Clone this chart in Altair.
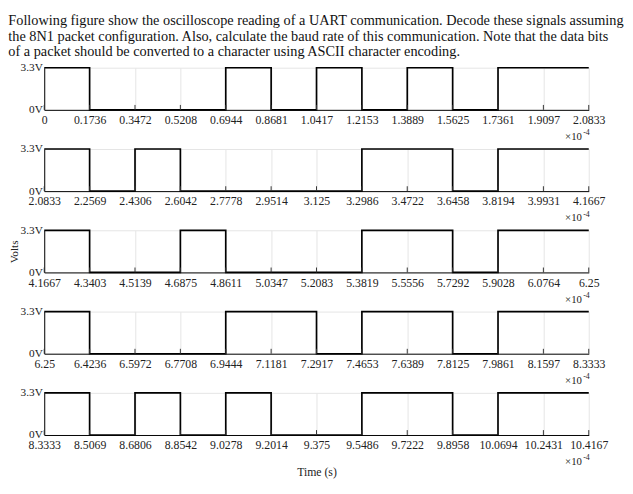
import altair as alt
import pandas as pd

HEADER = [
    "Following figure show the oscilloscope reading of a UART communication. Decode these signals assuming",
    "the 8N1 packet configuration. Also, calculate the baud rate of this communication. Note that the data bits",
    "of a packet should be converted to a character using ASCII character encoding.",
]

# tick labels (x10^-4 s) for each of the five panels
TICKS = [
    ["0", "0.1736", "0.3472", "0.5208", "0.6944", "0.8681", "1.0417", "1.2153", "1.3889", "1.5625", "1.7361", "1.9097", "2.0833"],
    ["2.0833", "2.2569", "2.4306", "2.6042", "2.7778", "2.9514", "3.125", "3.2986", "3.4722", "3.6458", "3.8194", "3.9931", "4.1667"],
    ["4.1667", "4.3403", "4.5139", "4.6875", "4.8611", "5.0347", "5.2083", "5.3819", "5.5556", "5.7292", "5.9028", "6.0764", "6.25"],
    ["6.25", "6.4236", "6.5972", "6.7708", "6.9444", "7.1181", "7.2917", "7.4653", "7.6389", "7.8125", "7.9861", "8.1597", "8.3333"],
    ["8.3333", "8.5069", "8.6806", "8.8542", "9.0278", "9.2014", "9.375", "9.5486", "9.7222", "9.8958", "10.0694", "10.2431", "10.4167"],
]

# logic level of each bit interval (1 = 3.3 V, 0 = 0 V)
BITS = [
    [1, 0, 0, 0, 1, 0, 1, 0, 1, 0, 1, 1],
    [1, 0, 1, 0, 0, 0, 0, 1, 1, 0, 1, 1],
    [1, 0, 0, 1, 0, 0, 0, 1, 1, 0, 1, 1],
    [1, 0, 0, 0, 1, 1, 0, 1, 1, 0, 1, 1],
    [1, 0, 1, 0, 1, 0, 0, 1, 1, 0, 1, 1],
]

V_HIGH = 3.3
Y_LEVELS = [0, 3.3]

W = 556
H = 43
SERIF = "Liberation Serif"
FS_X = 12
FS_Y = 11.5


def panel(i):
    t = [float(s) for s in TICKS[i]]
    levels = [V_HIGH * b for b in BITS[i]] + [V_HIGH * BITS[i][-1]]
    sig = pd.DataFrame({"t": t, "v": levels})
    tk = pd.DataFrame({"t": t})

    xscale = alt.Scale(domain=[t[0], t[-1]], nice=False, zero=False)
    xaxis = alt.Axis(
        values=t, format=".4~f", ticks=False, labelPadding=5, grid=True,
        labelOverlap=False, labelFlush=False, labelFont=SERIF, labelFontSize=FS_X,
        title="Time (s)" if i == 4 else None, titlePadding=16,
        titleFont=SERIF, titleFontSize=FS_X,
    )
    yaxis = alt.Axis(
        values=Y_LEVELS, labelExpr="format(datum.value, '~g') + 'V'",
        ticks=False, grid=True, labelPadding=2, labelOverlap=False,
        labelFont=SERIF, labelFontSize=FS_Y,
        title="Volts" if i == 2 else None, titlePadding=1,
        titleFont=SERIF, titleFontSize=FS_Y,
    )
    line = alt.Chart(sig).mark_line(
        interpolate="step-after", color="black", strokeWidth=1.7
    ).encode(
        x=alt.X("t:Q", scale=xscale, axis=xaxis),
        y=alt.Y("v:Q", scale=alt.Scale(domain=[0, 3.3], nice=False), axis=yaxis),
    )
    ticks = alt.Chart(tk).mark_rule(color="#333", strokeWidth=1).encode(
        x=alt.X("t:Q", scale=xscale),
        y=alt.value(H),
        y2=alt.value(H - 5),
    )
    base = alt.Chart(pd.DataFrame({"a": [0]}))
    exp1 = base.mark_text(
        text="\u00d710", align="right", baseline="middle", font=SERIF,
        fontSize=11, color="#222"
    ).encode(x=alt.value(W - 7), y=alt.value(H + 28))
    exp2 = base.mark_text(
        text="-4", align="right", baseline="middle", font=SERIF,
        fontSize=8, color="#222"
    ).encode(x=alt.value(W + 1), y=alt.value(H + 24))
    return alt.layer(line, ticks, exp1, exp2).properties(width=W, height=H)


chart = alt.vconcat(
    *[panel(i) for i in range(5)], spacing=40, bounds="flush"
).properties(
    title=alt.TitleParams(
        text=HEADER, anchor="start", font=SERIF, fontSize=14.6,
        fontWeight="normal", lineHeight=16, color="#111", offset=3,
        frame="bounds",
    ),
    padding=0,
).configure_view(stroke=None).configure_axis(
    domainColor="black", domainWidth=1, gridColor="#e4e4e4", gridWidth=1,
    labelColor="#222", titleFontWeight="normal", titleColor="#222",
)

chart.save("out.html", embed_options={"renderer": "svg", "actions": False})
